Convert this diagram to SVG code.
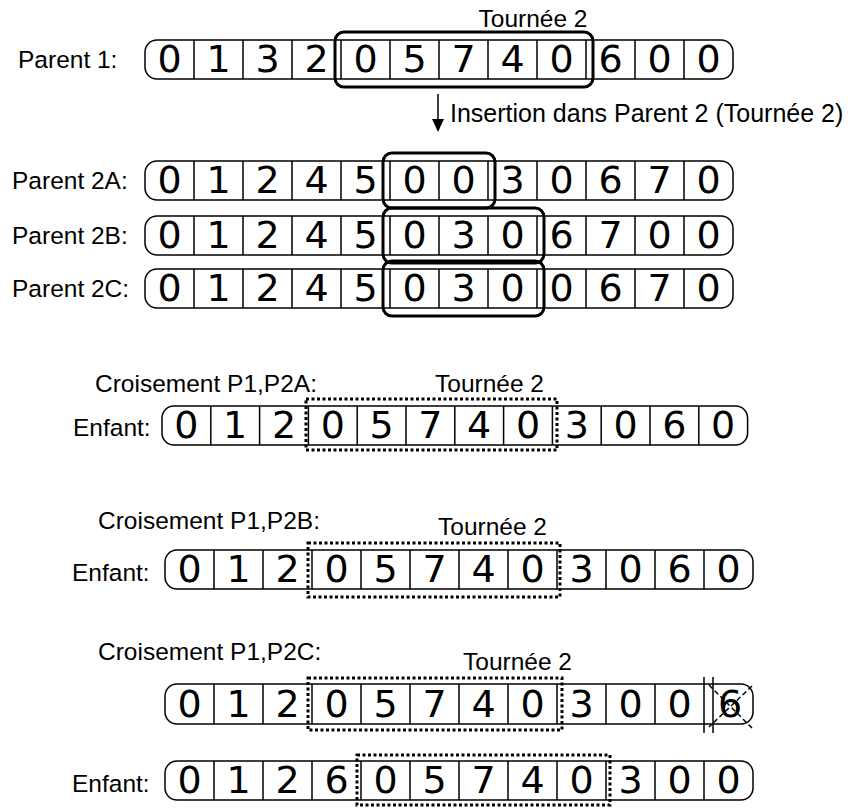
<svg xmlns="http://www.w3.org/2000/svg" width="851" height="808" viewBox="0 0 851 808">
<style>
.cont{fill:none;stroke:#000;stroke-width:1.5}
.div{stroke:#000;stroke-width:1.5}
.bold{fill:none;stroke:#000;stroke-width:3}
.dotb{fill:none;stroke:#000;stroke-width:3;stroke-dasharray:3 2.5}
.dig{font-family:"DejaVu Sans",sans-serif;font-size:38px;text-anchor:middle;fill:#000}
.lbl{font-family:"Liberation Sans",Arial,sans-serif;font-size:24.5px;fill:#000}
.xl{stroke:#000;stroke-width:1.5;stroke-dasharray:5 3}
</style>
<rect width="851" height="808" fill="#fff"/>

<g id="parent1">
<text class="lbl" x="18" y="68">Parent 1:</text>
<text class="lbl" x="533" y="27" text-anchor="middle">Tournée 2</text>
<rect class="cont" x="145" y="40" width="588" height="39" rx="12"/>
<path class="div" d="M194 40V79M243 40V79M292 40V79M341 40V79M390 40V79M439 40V79M488 40V79M537 40V79M586 40V79M635 40V79M684 40V79"/>
<g class="dig"><text x="169.5" y="72">0</text><text x="218.5" y="72">1</text><text x="267.5" y="72">3</text><text x="316.5" y="72">2</text><text x="365.5" y="72">0</text><text x="414.5" y="72">5</text><text x="463.5" y="72">7</text><text x="512.5" y="72">4</text><text x="561.5" y="72">0</text><text x="610.5" y="72">6</text><text x="659.5" y="72">0</text><text x="708.5" y="72">0</text></g>
<rect class="bold" x="335" y="32" width="258" height="55" rx="9"/>
</g>

<g id="parent2a">
<text class="lbl" x="12" y="189">Parent 2A:</text>
<rect class="cont" x="145" y="161" width="588" height="39" rx="12"/>
<path class="div" d="M194 161V200M243 161V200M292 161V200M341 161V200M390 161V200M439 161V200M488 161V200M537 161V200M586 161V200M635 161V200M684 161V200"/>
<g class="dig"><text x="169.5" y="193">0</text><text x="218.5" y="193">1</text><text x="267.5" y="193">2</text><text x="316.5" y="193">4</text><text x="365.5" y="193">5</text><text x="414.5" y="193">0</text><text x="463.5" y="193">0</text><text x="512.5" y="193">3</text><text x="561.5" y="193">0</text><text x="610.5" y="193">6</text><text x="659.5" y="193">7</text><text x="708.5" y="193">0</text></g>
<rect class="bold" x="383" y="153" width="112" height="55" rx="9"/>
</g>

<g id="parent2b">
<text class="lbl" x="12" y="244">Parent 2B:</text>
<rect class="cont" x="145" y="216" width="588" height="39" rx="12"/>
<path class="div" d="M194 216V255M243 216V255M292 216V255M341 216V255M390 216V255M439 216V255M488 216V255M537 216V255M586 216V255M635 216V255M684 216V255"/>
<g class="dig"><text x="169.5" y="248">0</text><text x="218.5" y="248">1</text><text x="267.5" y="248">2</text><text x="316.5" y="248">4</text><text x="365.5" y="248">5</text><text x="414.5" y="248">0</text><text x="463.5" y="248">3</text><text x="512.5" y="248">0</text><text x="561.5" y="248">6</text><text x="610.5" y="248">7</text><text x="659.5" y="248">0</text><text x="708.5" y="248">0</text></g>
<rect class="bold" x="383" y="208" width="161" height="55" rx="9"/>
</g>

<g id="parent2c">
<text class="lbl" x="12" y="297">Parent 2C:</text>
<rect class="cont" x="145" y="269" width="588" height="39" rx="12"/>
<path class="div" d="M194 269V308M243 269V308M292 269V308M341 269V308M390 269V308M439 269V308M488 269V308M537 269V308M586 269V308M635 269V308M684 269V308"/>
<g class="dig"><text x="169.5" y="301">0</text><text x="218.5" y="301">1</text><text x="267.5" y="301">2</text><text x="316.5" y="301">4</text><text x="365.5" y="301">5</text><text x="414.5" y="301">0</text><text x="463.5" y="301">3</text><text x="512.5" y="301">0</text><text x="561.5" y="301">0</text><text x="610.5" y="301">6</text><text x="659.5" y="301">7</text><text x="708.5" y="301">0</text></g>
<rect class="bold" x="383" y="261" width="161" height="55" rx="9"/>
</g>

<g id="enfant-a">
<text class="lbl" x="95" y="392">Croisement P1,P2A:</text>
<text class="lbl" x="435" y="392">Tournée 2</text>
<text class="lbl" x="73" y="436">Enfant:</text>
<rect class="cont" x="162" y="406" width="585.6" height="39" rx="12"/>
<path class="div" d="M210.8 406V445M259.6 406V445M308.4 406V445M357.2 406V445M406 406V445M454.8 406V445M503.6 406V445M552.4 406V445M601.2 406V445M650 406V445M698.8 406V445"/>
<g class="dig"><text x="186.4" y="438">0</text><text x="235.2" y="438">1</text><text x="284" y="438">2</text><text x="332.8" y="438">0</text><text x="381.6" y="438">5</text><text x="430.4" y="438">7</text><text x="479.2" y="438">4</text><text x="528" y="438">0</text><text x="576.8" y="438">3</text><text x="625.6" y="438">0</text><text x="674.4" y="438">6</text><text x="723.2" y="438">0</text></g>
<rect class="dotb" x="306" y="399" width="251" height="51"/>
</g>

<g id="enfant-b">
<text class="lbl" x="98" y="529">Croisement P1,P2B:</text>
<text class="lbl" x="438" y="535">Tournée 2</text>
<text class="lbl" x="72" y="581">Enfant:</text>
<rect class="cont" x="165" y="550" width="588" height="39" rx="12"/>
<path class="div" d="M214 550V589M263 550V589M312 550V589M361 550V589M410 550V589M459 550V589M508 550V589M557 550V589M606 550V589M655 550V589M704 550V589"/>
<g class="dig"><text x="189.5" y="582">0</text><text x="238.5" y="582">1</text><text x="287.5" y="582">2</text><text x="336.5" y="582">0</text><text x="385.5" y="582">5</text><text x="434.5" y="582">7</text><text x="483.5" y="582">4</text><text x="532.5" y="582">0</text><text x="581.5" y="582">3</text><text x="630.5" y="582">0</text><text x="679.5" y="582">6</text><text x="728.5" y="582">0</text></g>
<rect class="dotb" x="308" y="543" width="252" height="54"/>
</g>

<g id="croisement-c">
<text class="lbl" x="98" y="660">Croisement P1,P2C:</text>
<text class="lbl" x="463" y="670">Tournée 2</text>
<rect class="cont" x="165" y="684" width="588" height="40" rx="12"/>
<path class="div" d="M214 684V724M263 684V724M312 684V724M361 684V724M410 684V724M459 684V724M508 684V724M557 684V724M606 684V724M655 684V724M704 677V733M713 677V733"/>
<g class="dig"><text x="189.5" y="717">0</text><text x="238.5" y="717">1</text><text x="287.5" y="717">2</text><text x="336.5" y="717">0</text><text x="385.5" y="717">5</text><text x="434.5" y="717">7</text><text x="483.5" y="717">4</text><text x="532.5" y="717">0</text><text x="581.5" y="717">3</text><text x="630.5" y="717">0</text><text x="679.5" y="717">0</text><text x="730" y="717">6</text></g>
<path class="xl" d="M709 685L752 728M752 686L709 727"/>
<rect class="dotb" x="308" y="678" width="254" height="52"/>
</g>

<g id="enfant-c">
<text class="lbl" x="72" y="792">Enfant:</text>
<rect class="cont" x="165" y="761" width="588" height="39" rx="12"/>
<path class="div" d="M214 761V800M263 761V800M312 761V800M361 761V800M410 761V800M459 761V800M508 761V800M557 761V800M606 761V800M655 761V800M704 761V800"/>
<g class="dig"><text x="189.5" y="793">0</text><text x="238.5" y="793">1</text><text x="287.5" y="793">2</text><text x="336.5" y="793">6</text><text x="385.5" y="793">0</text><text x="434.5" y="793">5</text><text x="483.5" y="793">7</text><text x="532.5" y="793">4</text><text x="581.5" y="793">0</text><text x="630.5" y="793">3</text><text x="679.5" y="793">0</text><text x="728.5" y="793">0</text></g>
<rect class="dotb" x="357" y="755" width="253" height="50"/>
</g>

<g id="connectors">
<line x1="438" y1="94" x2="438" y2="120" stroke="#000" stroke-width="1.5"/>
<polygon points="432,119 444,119 438,132" fill="#000"/>
<text class="lbl" x="450" y="122" style="font-size:25px">Insertion dans Parent 2 (Tournée 2)</text>
</g>
</svg>
